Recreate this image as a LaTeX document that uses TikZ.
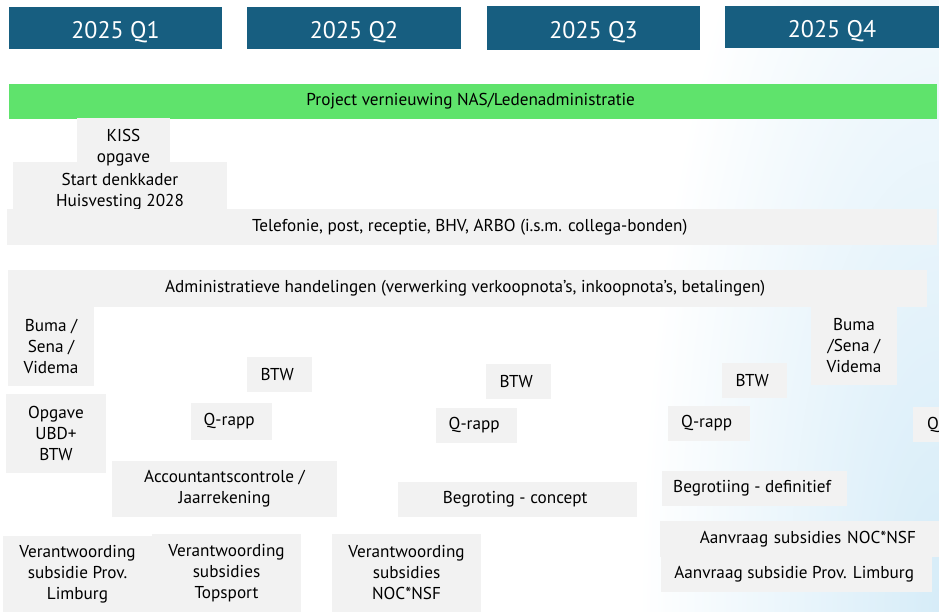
\documentclass[tikz,border=0pt]{standalone}
\usepackage{fontspec}
\setmainfont{PT Sans}
\definecolor{kwblauw}{RGB}{23,94,128}
\definecolor{vakgrijs}{RGB}{242,242,242}
\definecolor{projgroen}{RGB}{95,227,108}
\definecolor{achtergrond}{RGB}{214,236,248}
\begin{document}
\begin{tikzpicture}[x=1pt, y=-1pt,
        kw/.style={fill=kwblauw, text=white, inner sep=0pt, text height=20, text depth=0, font=\fontsize{24}{28}\selectfont},
        vak/.style={fill=vakgrijs, align=center, inner sep=0pt, font=\fontsize{17.2}{21}\selectfont},
        tekst/.style={align=center, inner sep=0pt, font=\fontsize{17.2}{21}\selectfont}]
            \useasboundingbox (0, 0) rectangle (939, 611);
            \begin{scope}
                \clip (0, 0) rectangle (939, 611);
                \shade[inner color=achtergrond, outer color=white] (639, -289) rectangle (1239, 1511);
            \end{scope}

            \node[kw, minimum width=213, minimum height=42] (Q1) at (115.5, 28) { 2025 Q1 };
            \node[kw, minimum width=214, minimum height=42] (Q2) at (354, 28) { 2025 Q2 };
            \node[kw, minimum width=213, minimum height=44] (Q3) at (593.5, 28) { 2025 Q3 };
            \node[kw, minimum width=214, minimum height=42] (Q4) at (832, 27) { 2025 Q4 };

            \node[vak, fill=projgroen, minimum width=928, minimum height=35] (P) at (473, 101.5) { Project vernieuwing NAS/Ledenadministratie };

            \node[vak, minimum width=214, minimum height=47] (S) at (120, 185.5) {};
            \node[tekst] (St) at (120, 192) { Start denkkader\\Huisvesting 2028 };
            \node[vak, minimum width=93, minimum height=44] (K) at (123.5, 140) {};
            \node[tekst] (Kt) at (123.5, 147.5) { KISS\\opgave };

            \node[vak, minimum width=930, minimum height=36] (T) at (472, 227) { Telefonie, post, receptie, BHV, ARBO (i.s.m. collega-bonden) };
            \node[vak, minimum width=919, minimum height=37] (A) at (467.5, 288.5) { Administratieve handelingen (verwerking verkoopnota’s, inkoopnota’s, betalingen) };

            \node[vak, minimum width=86, minimum height=79] (B1) at (51, 346.5) { Buma /\\Sena /\\Videma };
            \node[vak, minimum width=86, minimum height=78] (B4) at (854, 346) { Buma\\/Sena /\\Videma };

            \node[vak, minimum width=65, minimum height=35] (BTW2) at (279.5, 374.5) { BTW };
            \node[vak, minimum width=65, minimum height=35] (BTW3) at (518.5, 381.5) { BTW };
            \node[vak, minimum width=65, minimum height=35] (BTW4) at (754.5, 380.5) { BTW };

            \node[vak, minimum width=100, minimum height=79] (O) at (56, 433.5) { Opgave\\UBD+\\BTW };
            \node[vak, minimum width=81, minimum height=37] (R2) at (231.5, 421.5) { Q-rapp };
            \node[vak, minimum width=81, minimum height=35] (R3) at (476.5, 425.5) { Q-rapp };
            \node[vak, minimum width=82, minimum height=35] (R4) at (709, 423.5) { Q-rapp };
            \node[vak, text width=26, align=right, minimum height=35] (R5) at (926, 424.5) { Q };

            \node[vak, minimum width=225, minimum height=56] (J) at (224.5, 489) { Accountantscontrole /\\Jaarrekening };
            \node[vak, minimum width=239, minimum height=35] (BC) at (517.5, 499.5) { Begroting - concept };
            \node[vak, minimum width=185, minimum height=35] (BD) at (754.5, 488.5) { Begrotiing - definitief };

            \node[vak, text width=233, inner xsep=23, align=right, minimum height=36] (AN) at (799.5, 539) { Aanvraag subsidies NOC*NSF };
            \node[vak, minimum width=271, minimum height=35] (AL) at (796.5, 574.5) { Aanvraag subsidie Prov. Limburg };

            \node[vak, minimum width=149, minimum height=76] (VL) at (77.5, 574) { Verantwoording\\subsidie Prov.\\Limburg };
            \node[vak, minimum width=149, minimum height=78] (VT) at (226.5, 573) { Verantwoording\\subsidies\\Topsport };
            \node[vak, minimum width=149, minimum height=78] (VN) at (406.5, 573) { Verantwoording\\subsidies\\NOC*NSF };
        \end{tikzpicture}
\end{document}
